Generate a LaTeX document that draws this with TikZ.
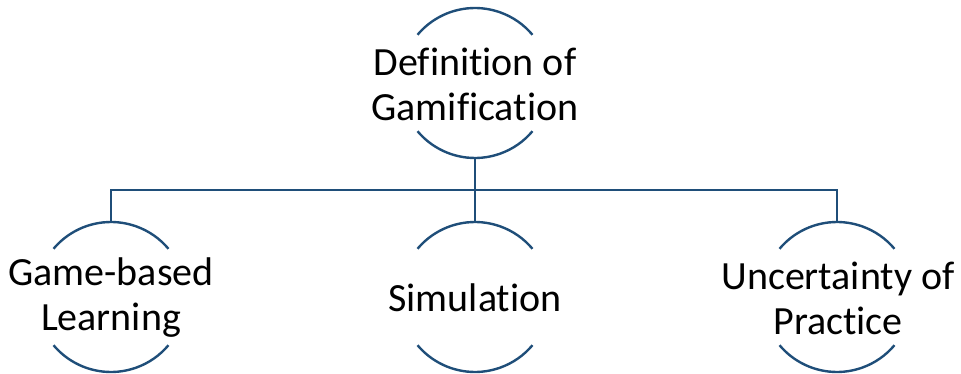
\documentclass[tikz,border=0pt]{standalone}
\usepackage{fontspec}
\setmainfont{Carlito}[Ligatures=CommonOff]
\definecolor{arcblue}{HTML}{1F4E79}
\begin{document}
\begin{tikzpicture}[x=1pt,y=-1pt,
  arcline/.style={draw=arcblue,line width=2.4pt},
  lbl/.style={align=center,font=\fontsize{40}{45}\selectfont,inner sep=0pt,text=black}]
\useasboundingbox (0,0) rectangle (961,374);
% circle centres
\coordinate (top) at (475,83);
\coordinate (c1) at (111,297);
\coordinate (c2) at (475,297);
\coordinate (c3) at (837,297);
\def\R{75}
\foreach \c in {top,c1,c2,c3}{
  \draw[arcline] (\c) ++(40:\R) arc[start angle=40,end angle=140,radius=\R];
  \draw[arcline] (\c) ++(-40:\R) arc[start angle=-40,end angle=-140,radius=\R];
}
\coordinate (topb) at (475,158);
\coordinate (bus) at (475,190);
\coordinate (t1) at (111,222);
\coordinate (t2) at (475,222);
\coordinate (t3) at (837,222);
\draw[arcline] (topb) -- (bus);
\draw[arcline] (t1) |- (bus) -| (t3);
\draw[arcline] (bus) -- (t2);
\node[lbl] (n0) at (475,84) {Definition of\\Gamification};
\node[lbl] (n1) at (111,298) {Game-based\\Learning};
\node[lbl] (n2) at (475,298) {Simulation};
\node[lbl] (n3) at (838,298) {Uncertainty of\\Practice};
\end{tikzpicture}
\end{document}
